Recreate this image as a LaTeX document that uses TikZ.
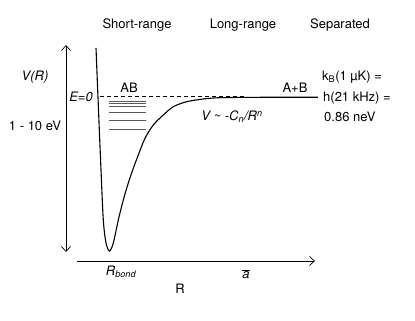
\documentclass[tikz,border=0pt]{standalone}
\usepackage{fontspec}
\setmainfont{TeX Gyre Heros}
\usepackage{tikz}
\usetikzlibrary{arrows.meta}

\tikzset{
    lbl/.style={font=\fontsize{13}{15}\selectfont, inner sep=1pt},
    ilbl/.style={lbl, font=\fontsize{13}{15}\selectfont\itshape},
    axis/.style={line width=0.7pt, {Straight Barb[length=5pt,width=9pt]}-{Straight Barb[length=5pt,width=9pt]}},
    level/.style={line width=0.8pt, black!65},
    potential/.style={line width=1.1pt},
}

\begin{document}
\begin{tikzpicture}[x=1pt, y=-1pt]
    \useasboundingbox (0,0) rectangle (415,321);
    % regions
    \node[lbl] (short) at (137,25) {Short-range};
    \node[lbl] (long) at (243,25) {Long-range};
    \node[lbl] (sep) at (340,25) {Separated};
    % energy axis
    \coordinate (etop) at (66,45);
    \coordinate (ebot) at (66,252);
    \draw[axis] (etop) -- (ebot);
    \node[ilbl] (vr) at (35,77) {V(R)};
    \node[lbl] (depth) at (35,126) {1 - 10 eV};
    % distance axis
    \coordinate (rleft) at (77,261);
    \coordinate (rright) at (315,261);
    \draw[axis, {Straight Barb[length=5pt,width=9pt]}-{}] (rright) -- (rleft);
    \node[ilbl] (rbond) at (121,272) {R\textsubscript{bond}};
    \node[ilbl] (abar) at (246,274) {$\overline{\mbox{\itshape a}}$};
    \node[lbl] (rlabel) at (180,289) {R};
    % threshold
    \coordinate (ezero) at (100,96.7);
    \coordinate (ezend) at (245,96.7);
    \draw[line width=0.7pt, dash pattern=on 4pt off 3pt] (ezero) -- (ezend);
    \node[ilbl, anchor=east] (e0) at (94,97) {E=0};
    % bound levels
    \foreach \y in {101,103.3,106,112.3,120,129.3} {
        \draw[level] (109,\y) -- (146,\y);
    }
    \node[lbl] (ab) at (129,88) {AB};
    % potential curve
    \draw[potential] plot[smooth, tension=0.5] coordinates {
        (96,48) (98.5,110) (101,170) (103.3,220) (106,243) (109.5,251)
        (113.3,243) (118.3,220) (123.3,200) (128.3,183) (132.7,170)
        (138.3,155) (145,138.3) (153.3,125) (163.3,115) (173.3,106.7)
        (186.7,101.7) (203.3,99) (220,97.7) (260,97.3) (318,97.3)};
    \node[lbl] (apb) at (295,88) {A+B};
    \node[ilbl] (vlong) at (232,117) {V \textasciitilde{} -C\textsubscript{n}/R\textsuperscript{n}};
    % scale
    \node[lbl, anchor=west] (kb) at (321,77) {k\textsubscript{B}(1 µK) =};
    \node[lbl, anchor=west] (hf) at (322,98) {h(21 kHz) =};
    \node[lbl, anchor=west] (nev) at (323,117) {0.86 neV};
\end{tikzpicture}
\end{document}
